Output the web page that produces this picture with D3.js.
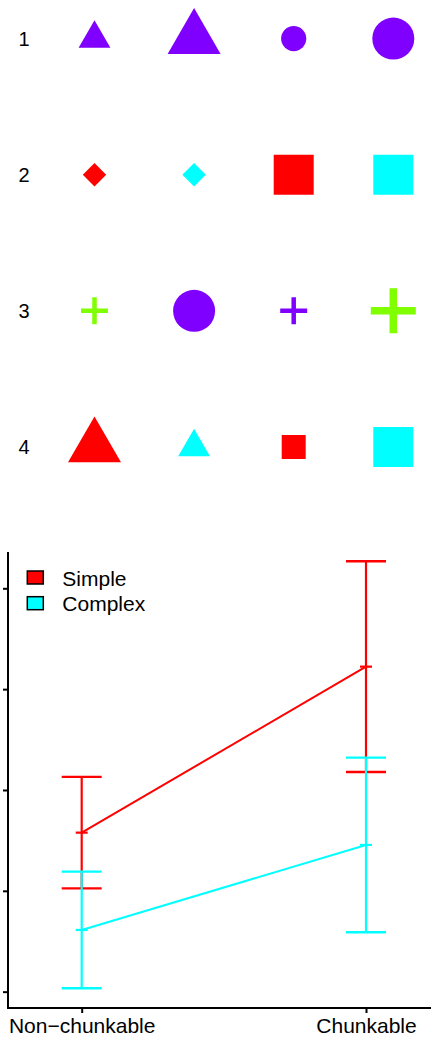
<!DOCTYPE html>
<html>
<head>
<meta charset="utf-8">
<script src="https://cdn.jsdelivr.net/npm/d3@7"></script>
<style>
  html, body { margin: 0; padding: 0; background: #ffffff; }
  svg { display: block; }
  text { font-family: "Liberation Sans", Arial, Helvetica, sans-serif; }
</style>
</head>
<body>
<div id="chart"></div>
<script>
// ---------- Data: symbol grid ----------
const rowLabels = ["1", "2", "3", "4"];
const columns = [0, 1, 2, 3];
const gridShapes = [
  ["triangle", "triangle", "circle", "circle"],
  ["diamond", "diamond", "square", "square"],
  ["plus", "circle", "plus", "plus"],
  ["triangle", "triangle", "square", "square"]
];
const gridColors = [
  ["purple", "purple", "purple", "purple"],
  ["red", "cyan", "red", "cyan"],
  ["green", "purple", "purple", "green"],
  ["red", "cyan", "red", "cyan"]
];
const gridSizes = [
  ["small", "large", "small", "large"],
  ["small", "small", "large", "large"],
  ["small", "large", "small", "large"],
  ["large", "small", "small", "large"]
];

// ---------- Data: interaction plot ----------
const conditions = ["Non\u2212chunkable", "Chunkable"];
const groups = ["Simple", "Complex"];
const simpleMeans = [2.577, 4.223];
const simpleErrors = [0.553, 1.045];
const complexMeans = [1.612, 2.455];
const complexErrors = [0.578, 0.866];
const yTickValues = [1, 2, 3, 4, 5];

// ---------- Setup ----------
const W = 431, H = 1037;
const svg = d3.select("#chart").append("svg")
  .attr("width", W).attr("height", H)
  .attr("viewBox", `0 0 ${W} ${H}`);

const colorScale = d3.scaleOrdinal()
  .domain(["purple", "red", "cyan", "green"])
  .range(["#8000FF", "#FF0000", "#00FFFF", "#80FF00"]);
const sizeFactor = d3.scaleOrdinal().domain(["small", "large"]).range([0.6, 1]);

const xCol = d3.scalePoint().domain(columns).range([94.5, 393.3]);
const yRow = d3.scalePoint().domain(rowLabels).range([38.6, 447]);

// custom plus symbol (stroked)
const symbolPlus = {
  draw(ctx, size) {
    const h = size;
    ctx.moveTo(-h, 0); ctx.lineTo(h, 0);
    ctx.moveTo(0, -h); ctx.lineTo(0, h);
  }
};

function symbolFor(shape, f) {
  if (shape === "triangle") { const s = 53 * f; return { type: d3.symbolTriangle, size: Math.sqrt(3) / 4 * s * s, rot: 0 }; }
  if (shape === "circle") { const r = 21 * f; return { type: d3.symbolCircle, size: Math.PI * r * r, rot: 0 }; }
  if (shape === "square") { const s = 40 * f; return { type: d3.symbolSquare, size: s * s, rot: 0 }; }
  if (shape === "diamond") { const s = 19.5 * f * Math.SQRT2; return { type: d3.symbolSquare, size: s * s, rot: 45 }; }
  return { type: symbolPlus, size: 22.5 * f, rot: 0, stroke: 7.5 * f };
}

const cells = [];
rowLabels.forEach((r, i) => columns.forEach(c => {
  cells.push({ row: r, col: c, shape: gridShapes[i][c], color: gridColors[i][c], size: gridSizes[i][c] });
}));

const grid = svg.append("g");
grid.selectAll("text.rowlab").data(rowLabels).enter().append("text")
  .attr("class", "rowlab")
  .attr("x", 24).attr("y", d => yRow(d) + 7)
  .attr("text-anchor", "middle")
  .attr("font-size", 20)
  .attr("fill", "#000")
  .text(d => d);

grid.selectAll("path.sym").data(cells).enter().append("path")
  .attr("class", "sym")
  .each(function (d) {
    const s = symbolFor(d.shape, sizeFactor(d.size));
    const el = d3.select(this)
      .attr("d", d3.symbol().type(s.type).size(s.size)())
      .attr("transform", `translate(${xCol(d.col)},${yRow(d.row)}) rotate(${s.rot})`);
    if (d.shape === "plus") {
      el.attr("fill", "none").attr("stroke", colorScale(d.color))
        .attr("stroke-width", s.stroke).attr("stroke-linecap", "butt");
    } else {
      el.attr("fill", colorScale(d.color));
    }
  });

// ---------- Interaction plot ----------
const plotLeft = 8, plotRight = 431, plotTop = 552, plotBottom = 1008;
const x = d3.scalePoint().domain(conditions).range([81.7, 366]);
const y = d3.scaleLinear().domain([0.838, 5.36]).range([plotBottom, plotTop]);

const plot = svg.append("g");

// axis lines (L-shaped box)
plot.append("path")
  .attr("d", d3.line()([[plotLeft, plotTop], [plotLeft, plotBottom], [plotRight, plotBottom]]))
  .attr("fill", "none").attr("stroke", "#000").attr("stroke-width", 2);

const yAxis = plot.append("g").attr("transform", `translate(${plotLeft},0)`)
  .call(d3.axisLeft(y).tickValues(yTickValues).tickSize(5).tickFormat(""));
yAxis.select(".domain").remove();
yAxis.selectAll(".tick line").attr("stroke", "#000").attr("stroke-width", 2);

const xAxis = plot.append("g").attr("transform", `translate(0,${plotBottom})`)
  .call(d3.axisBottom(x).tickSize(5).tickSizeOuter(0));
xAxis.select(".domain").remove();
xAxis.selectAll(".tick line").attr("stroke", "#000").attr("stroke-width", 2);
xAxis.selectAll(".tick text")
  .attr("y", 24.5).attr("dy", 0)
  .attr("font-size", 21)
  .attr("font-family", "'Liberation Sans', Arial, Helvetica, sans-serif")
  .attr("fill", "#000");

const series = [
  { name: groups[0], color: "red", means: simpleMeans, errs: simpleErrors },
  { name: groups[1], color: "cyan", means: complexMeans, errs: complexErrors }
];

series.forEach(s => {
  const col = colorScale(s.color);
  const pts = conditions.map((c, i) => ({ c, m: s.means[i], e: s.errs[i] }));
  const g = plot.append("g");
  g.append("path")
    .attr("d", d3.line().x(d => x(d.c)).y(d => y(d.m))(pts))
    .attr("fill", "none").attr("stroke", col).attr("stroke-width", 2);
  pts.forEach(p => {
    const cx = x(p.c);
    // vertical bar
    g.append("line").attr("x1", cx).attr("x2", cx)
      .attr("y1", y(p.m - p.e)).attr("y2", y(p.m + p.e))
      .attr("stroke", col).attr("stroke-width", 2.2);
    // caps
    [p.m - p.e, p.m + p.e].forEach(v => {
      g.append("line").attr("x1", cx - 20).attr("x2", cx + 20)
        .attr("y1", y(v)).attr("y2", y(v))
        .attr("stroke", col).attr("stroke-width", 2.4);
    });
    // mean marker
    g.append("line").attr("x1", cx - 6).attr("x2", cx + 6)
      .attr("y1", y(p.m)).attr("y2", y(p.m))
      .attr("stroke", col).attr("stroke-width", 2.2);
  });
});

// legend
const legend = plot.append("g");
groups.forEach((gname, i) => {
  const gy = 571 + i * 25.7;
  legend.append("rect")
    .attr("x", 27.3).attr("y", gy).attr("width", 16).attr("height", 13)
    .attr("fill", colorScale(series[i].color))
    .attr("stroke", "#000").attr("stroke-width", 1.5);
  legend.append("text")
    .attr("x", 62.3).attr("y", gy + 14.7)
    .attr("font-size", 21).attr("fill", "#000")
    .text(gname);
});
</script>
</body>
</html>
